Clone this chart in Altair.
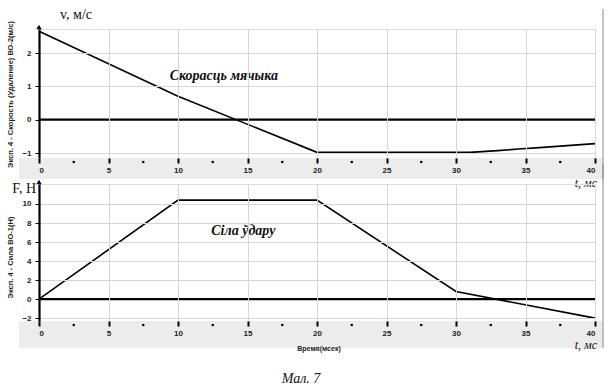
import altair as alt
import pandas as pd

# ---- data ----
time_v = [0, 10, 20, 31, 33, 34.5, 36, 38, 40]
velocity = [2.65, 0.7, -0.98, -0.98, -0.93, -0.88, -0.84, -0.78, -0.72]
time_f = [0, 10, 20, 30, 40]
force = [0, 10.4, 10.4, 0.8, -2.0]
t_ticks = [0, 5, 10, 15, 20, 25, 30, 35, 40]
t_minor = [2.5, 7.5, 12.5, 17.5, 22.5, 27.5, 32.5, 37.5]
v_ticks = [-1, 0, 1, 2]
f_ticks = [-2, 0, 2, 4, 6, 8, 10]

W = 556
H1 = 129
H2 = 137

df_v = pd.DataFrame({"t": time_v, "v": velocity})
df_f = pd.DataFrame({"t": time_f, "F": force})
df_minor = pd.DataFrame({"t": t_minor})

serif = "Liberation Serif"
sans = "Liberation Sans"
grid_c = "#d6d6d6"
band_c = "#ececec"


def x_axis():
    return alt.Axis(values=t_ticks, tickCount=20, format="d", domain=False, grid=True,
                    gridColor=grid_c, tickColor="black", tickSize=5, tickWidth=2,
                    labelFont=sans, labelFontWeight="bold", labelFontSize=8,
                    labelColor="#222", labelPadding=3, labelOverlap=False,
                    title=None, zindex=1)


def y_axis(vals, title, ty):
    return alt.Axis(values=vals, tickCount=20, format="d", domain=True,
                    domainColor="black", domainWidth=2.2, grid=True,
                    gridColor=grid_c,
                    gridOpacity={"condition": {"test": "datum.value == 0", "value": 0},
                                 "value": 1},
                    tickColor="black", tickSize=4, labelFont=sans,
                    labelFontWeight="bold", labelFontSize=8, labelColor="#222",
                    labelPadding=4, labelOverlap=False, title=title, titleFont=sans,
                    titleFontWeight="bold", titleFontSize=7.5, titleColor="#222",
                    titleAngle=270, titleX=-29, titleY=ty, titleAlign="center",
                    titleBaseline="middle", zindex=1)


def one():
    return pd.DataFrame({"a": [0]})


def panel(df, ycol, dom, vals, ytitle, ty, H, label, label_t, label_y,
          axis_lbl, band_h, t_title_y, extra=None):
    xs = alt.Scale(domain=[0, 40], nice=False, zero=False)
    ys = alt.Scale(domain=dom, nice=False, zero=False)
    yax = y_axis(vals, ytitle, ty)
    xax = x_axis()
    band = alt.Chart(one()).mark_rect(color=band_c).encode(
        x=alt.value(-20), x2=alt.value(W + 8),
        y=alt.value(H), y2=alt.value(H + band_h))
    line = alt.Chart(df).mark_line(color="black", strokeWidth=1.6).encode(
        x=alt.X("t:Q", scale=xs, axis=xax),
        y=alt.Y(f"{ycol}:Q", scale=ys, axis=yax))
    zero = alt.Chart(pd.DataFrame({"z": [0]})).mark_rule(
        color="black", strokeWidth=2.2).encode(y=alt.Y("z:Q", scale=ys, axis=yax))
    minor = alt.Chart(df_minor).mark_square(
        color="black", size=5, opacity=1).encode(
        x=alt.X("t:Q", scale=xs, axis=xax), y=alt.value(H + 4))
    note = alt.Chart(one()).mark_text(
        font=serif, fontSize=14, fontStyle="italic", fontWeight="bold",
        color="#111").encode(x=alt.datum(label_t), y=alt.datum(label_y),
                             text=alt.value(label))
    arrow = alt.Chart(one()).mark_point(
        shape="triangle-up", filled=True, color="black", size=28, opacity=1).encode(
        x=alt.value(0), y=alt.value(-2))
    ylab = alt.Chart(one()).mark_text(
        font=serif, fontSize=14, color="#111", align=axis_lbl[3],
        baseline="middle").encode(x=alt.value(axis_lbl[1]), y=alt.value(axis_lbl[2]),
                                  text=alt.value(axis_lbl[0]))
    tlab = alt.Chart(one()).mark_text(
        font=serif, fontSize=12, fontStyle="italic", color="#111", align="right",
        baseline="middle").encode(x=alt.value(W + 2), y=alt.value(t_title_y),
                                  text=alt.value("t, мс"))
    frame = alt.Chart(one()).mark_rule(
        color="#888", strokeWidth=1).encode(
        x=alt.value(W + 8), y=alt.value(-20), y2=alt.value(H + band_h))
    layers = [band, zero, line, minor, note, arrow, ylab, tlab, frame]
    if extra is not None:
        layers.append(extra)
    return alt.layer(*layers).properties(width=W, height=H)


top = panel(df_v, "v", [-1.15, 2.72], v_ticks,
            "Эксп. 4 - Скорость (Удаление) ВО-2(м/с)", 65, H1,
            "Скорасць мячыка", 13.3, 1.32,
            ("v, м/с", 21, -14, "left"), 21, H1 + 25)

vremya = alt.Chart(one()).mark_text(
    font=sans, fontSize=7, fontWeight="bold", color="#222").encode(
    x=alt.value(280), y=alt.value(H2 + 28), text=alt.value("Время(мсек)"))
caption = alt.Chart(one()).mark_text(
    font=serif, fontSize=14, fontStyle="italic", color="#111").encode(
    x=alt.value(262), y=alt.value(H2 + 58), text=alt.value("Мал. 7"))
bottom_extra = alt.layer(vremya, caption)

bottom = panel(df_f, "F", [-2.3, 12.1], f_ticks,
               "Эксп. 4 - Сила ВО-1(Н)", 73, H2,
               "Сіла ўдару", 14.7, 7.2,
               ("F, Н", -3, 5, "right"), 27, H2 + 24, extra=bottom_extra)

chart = alt.vconcat(top, bottom, spacing=26, bounds="flush").properties(
    padding={"left": 5, "top": 7, "right": 4, "bottom": 0}
).configure_view(stroke=None).configure(background="white")

chart.save("out.html", embed_options={"renderer": "svg", "actions": False})
